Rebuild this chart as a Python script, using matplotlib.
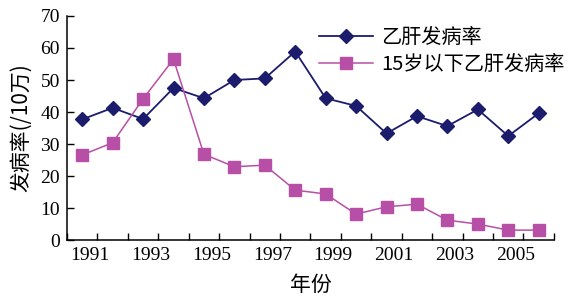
import matplotlib.pyplot as plt
import numpy as np

years = list(range(1991, 2007))
hepb_rate = [37.7, 41.3, 37.8, 47.5, 44.3, 50.0, 50.5, 58.9,
             44.3, 41.9, 33.3, 38.7, 35.6, 40.8, 32.5, 39.6]
under15_rate = [26.6, 30.4, 44.1, 56.5, 26.8, 22.9, 23.4, 15.6,
                14.4, 8.1, 10.4, 11.2, 6.2, 5.0, 3.1, 3.1]
tick_years = [1991, 1993, 1995, 1997, 1999, 2001, 2003, 2005]
yticks = [0, 10, 20, 30, 40, 50, 60, 70]

cjk = ['Noto Sans CJK SC', 'DejaVu Sans']
num_font = 'Liberation Serif'

fig = plt.figure(figsize=(5.74, 2.96), dpi=100)
ax = fig.add_axes([0.1167, 0.189, 0.8483, 0.757])

x = np.arange(len(years))
ax.plot(x, hepb_rate, color='#1c1c6c', marker='D', markersize=7, lw=1.3,
        label='乙肝发病率')
ax.plot(x, under15_rate, color='#b84fa6', marker='s', markersize=8.5, lw=1.1,
        label='15岁以下乙肝发病率')

ax.set_xlim(-0.5, len(years) - 0.5)
ax.set_ylim(0, 70)

# tick marks on category boundaries, labels near centres
ax.set_xticks(np.arange(-0.5, len(years)), minor=True)
ax.set_xticks([years.index(y) + 0.25 for y in tick_years])
ax.set_xticklabels([str(y) for y in tick_years], fontfamily=num_font, fontsize=14)
ax.tick_params(axis='x', which='major', length=0, pad=5)
ax.tick_params(axis='x', which='minor', direction='in', length=5, width=1)
ax.set_yticks(yticks)
ax.set_yticklabels([str(v) for v in yticks], fontfamily=num_font, fontsize=14)
ax.tick_params(axis='y', direction='in', length=5, width=1, pad=5)

for s in ['top', 'right']:
    ax.spines[s].set_visible(False)
ax.spines['left'].set_linewidth(1.1)
ax.spines['bottom'].set_linewidth(1.1)

ax.set_xlabel('年份', family=cjk, fontsize=15, labelpad=7)
ax.set_ylabel('发病率(/10万)', family=cjk, fontsize=15, labelpad=6)

ax.legend(loc='upper left', bbox_to_anchor=(0.48, 1.03), frameon=False,
          prop={'family': cjk, 'size': 14.5}, handlelength=2.7,
          labelspacing=0.3, handletextpad=0.4)

fig.savefig('out.png', dpi=100)
